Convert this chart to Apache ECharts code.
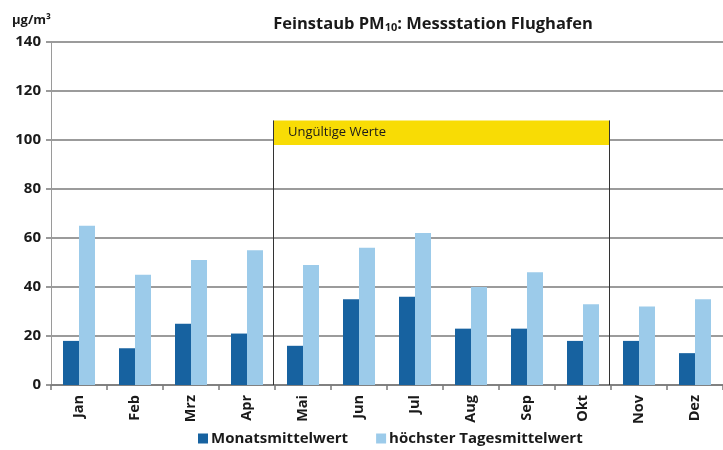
<!DOCTYPE html>
<html>
<head>
<meta charset="utf-8">
<script src="https://cdn.jsdelivr.net/npm/echarts@6/dist/echarts.min.js"></script>
<style>
  html, body { margin: 0; padding: 0; background: #fff; }
  #chart-container { width: 723px; height: 450px; }
</style>
</head>
<body>
<div id="chart-container"></div>
<script>
var months = ['Jan', 'Feb', 'Mrz', 'Apr', 'Mai', 'Jun', 'Jul', 'Aug', 'Sep', 'Okt', 'Nov', 'Dez'];
var monatsmittel = [18, 15, 25, 21, 16, 35, 36, 23, 23, 18, 18, 13];
var tagesmittelMax = [65, 45, 51, 55, 49, 56, 62, 40, 46, 33, 32, 35];
var yTicks = [0, 20, 40, 60, 80, 100, 120, 140];
// invalid period: first month index, last month index, low, high
var invalidBox = [[4, 9, 98, 108]];
// vertical dividers: left edge of month index, top value
var dividers = [[4, 108], [10, 108]];

var dom = document.getElementById('chart-container');
var myChart = echarts.init(dom, null, { renderer: 'canvas' });
var font = '"Open Sans", "Noto Sans", sans-serif';

var option = {
  animation: false,
  textStyle: { fontFamily: font },
  title: {
    text: '{t|Feinstaub PM}{s|10}{t|: Messstation Flughafen}',
    left: 428,
    top: 10,
    textAlign: 'center',
    textStyle: {
      rich: {
        t: { fontSize: 16.5, fontWeight: 'bold', color: '#1a1a1a', fontFamily: font },
        s: { fontSize: 11, fontWeight: 'bold', color: '#1a1a1a', fontFamily: font, verticalAlign: 'bottom', padding: [7, 0, 0, 0] }
      }
    }
  },
  legend: {
    bottom: -1,
    left: 193,
    itemWidth: 10,
    itemHeight: 10,
    itemGap: 28,
    icon: 'rect',
    textStyle: { fontSize: 15, fontWeight: 'bold', color: '#1a1a1a', padding: [0, 0, 0, -2] },
    data: ['Monatsmittelwert', 'höchster Tagesmittelwert']
  },
  grid: { left: 51, right: 0, top: 42, bottom: 65 },
  xAxis: {
    type: 'category',
    data: months,
    axisLine: { lineStyle: { color: '#7a7a7a', width: 1.5 } },
    axisTick: { show: true, length: 5, lineStyle: { color: '#7a7a7a', width: 1.5 } },
    axisLabel: { rotate: 90, fontSize: 14.5, fontWeight: 'bold', color: '#1a1a1a', margin: 10 }
  },
  yAxis: {
    type: 'value',
    name: 'µg/m³',
    nameLocation: 'end',
    nameGap: 15,
    nameTextStyle: { fontSize: 13, fontWeight: 'bold', color: '#1a1a1a', align: 'right', padding: [0, 0, 0, 0] },
    min: yTicks[0],
    max: yTicks[yTicks.length - 1],
    interval: 20,
    axisLine: { show: true, lineStyle: { color: '#9a9a9a', width: 1 } },
    axisTick: { show: true, length: 5, lineStyle: { color: '#7a7a7a', width: 1.5 } },
    axisLabel: { fontSize: 15, fontWeight: 'bold', color: '#1a1a1a', margin: 10 },
    splitLine: { lineStyle: { color: '#7a7a7a', width: 1.5 } }
  },
  series: [
    {
      name: 'Monatsmittelwert',
      type: 'bar',
      data: monatsmittel,
      barWidth: 16,
      barGap: '0%',
      itemStyle: { color: '#1762a0' }
    },
    {
      name: 'höchster Tagesmittelwert',
      type: 'bar',
      data: tagesmittelMax,
      barWidth: 16,
      barGap: '0%',
      itemStyle: { color: '#9ccbea' }
    },
    {
      type: 'custom',
      silent: true,
      z: 5,
      data: dividers,
      encode: { x: 0, y: 1 },
      renderItem: function (params, api) {
        var bw = api.size([1, 0])[0];
        var top = api.coord([api.value(0), api.value(1)]);
        var bot = api.coord([api.value(0), 0]);
        var x = Math.round(top[0] - bw / 2) - 1.5;
        return {
          type: 'line',
          shape: { x1: x, y1: top[1], x2: x, y2: bot[1] },
          style: { stroke: '#333', lineWidth: 1 }
        };
      }
    },
    {
      type: 'custom',
      silent: true,
      z: 6,
      data: invalidBox,
      encode: { x: [0, 1], y: [2, 3] },
      renderItem: function (params, api) {
        var bw = api.size([1, 0])[0];
        var p1 = api.coord([api.value(0), api.value(3)]);
        var p2 = api.coord([api.value(1), api.value(2)]);
        var x1 = Math.round(p1[0] - bw / 2) - 1;
        var x2 = Math.round(p2[0] + bw / 2) - 2;
        return {
          type: 'group',
          children: [
            {
              type: 'rect',
              shape: { x: x1, y: p1[1], width: x2 - x1, height: p2[1] - p1[1] },
              style: { fill: '#f8dc05' }
            },
            {
              type: 'text',
              x: x1 + 14,
              y: (p1[1] + p2[1]) / 2,
              style: {
                text: 'Ungültige Werte',
                fill: '#1a1a1a',
                fontSize: 13,
                fontFamily: font,
                verticalAlign: 'middle'
              }
            }
          ]
        };
      }
    }
  ]
};

if (option && typeof option === 'object') {
  myChart.setOption(option);
}

window.addEventListener('resize', myChart.resize);
</script>
</body>
</html>
